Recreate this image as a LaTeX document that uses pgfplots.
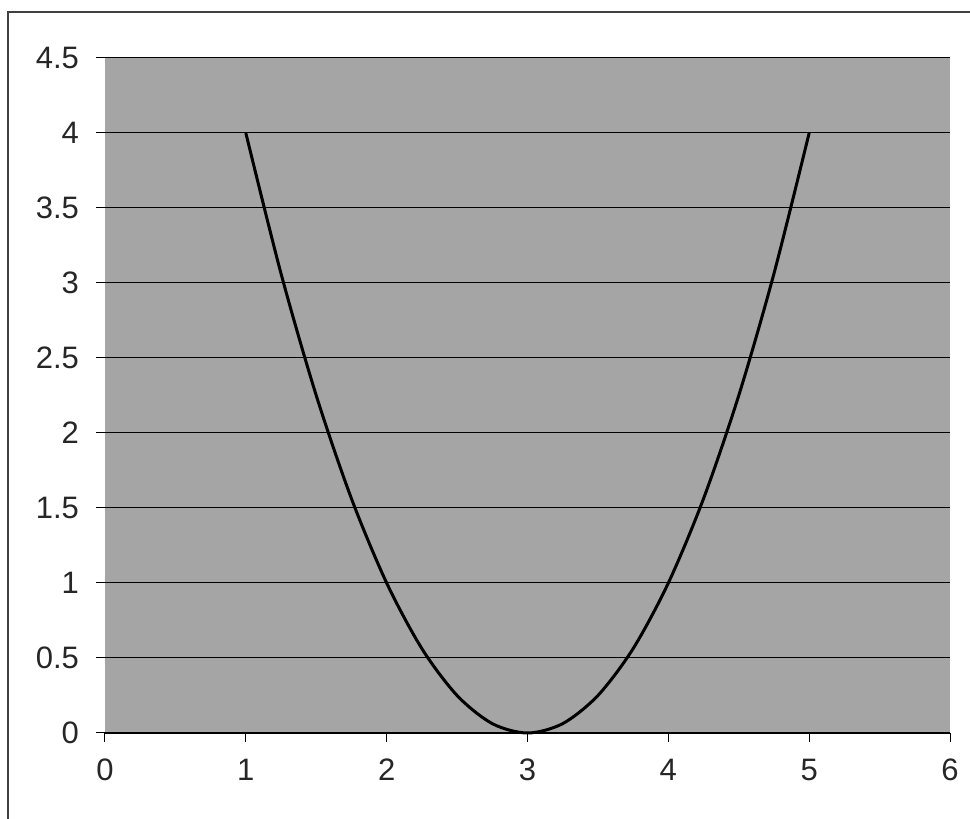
\documentclass[border=0pt]{standalone}
\usepackage{fontspec}
\setmainfont{Liberation Sans}
\usepackage{pgfplots}
\pgfplotsset{compat=1.18}

\definecolor{plotgray}{RGB}{165,165,165}

\begin{document}
\begin{tikzpicture}[x=1pt,y=1pt]
% page: 970x819 px at 0.5pt per px, axis origin at px (105,733)
\path[use as bounding box] (-52.5,-43) rectangle (432.5,366.5);
\draw[line width=0.9pt, black!75] (-48.5,-43) -- (-48.5,360.5) -- (432.5,360.5);

\begin{axis}[
    at={(0,0)}, anchor=origin,
    width=422.5pt, height=337.5pt,
    scale only axis,
    xmin=0, xmax=6,
    ymin=0, ymax=4.5,
    xtick={0,1,2,3,4,5,6},
    ytick={0,0.5,1,1.5,2,2.5,3,3.5,4,4.5},
    axis background/.style={fill=plotgray},
    axis line style={draw=none},
    ymajorgrids,
    grid style={black, line width=0.5pt},
    tick align=outside,
    tick style={black, line width=0.5pt},
    major tick length=4.5pt,
    xtick pos=bottom, ytick pos=left,
    every tick label/.append style={font=\fontsize{15.5}{18}\selectfont, text=black!85},
    /pgf/number format/assume math mode=true,
    xticklabel style={yshift=-5pt},
    yticklabel style={xshift=-5pt},
    clip=false,
]
% lower axis line
\addplot[black, line width=1pt, forget plot] coordinates {(0,0) (6,0)};

% y = (x-3)^2
\addplot[black, line width=1.5pt, smooth] coordinates {
  (1,4) (1.25,3.0625) (1.5,2.25) (1.75,1.5625) (2,1) (2.25,0.5625)
  (2.5,0.25) (2.75,0.0625) (3,0) (3.25,0.0625) (3.5,0.25) (3.75,0.5625)
  (4,1) (4.25,1.5625) (4.5,2.25) (4.75,3.0625) (5,4)
};
\end{axis}
\end{tikzpicture}
\end{document}
